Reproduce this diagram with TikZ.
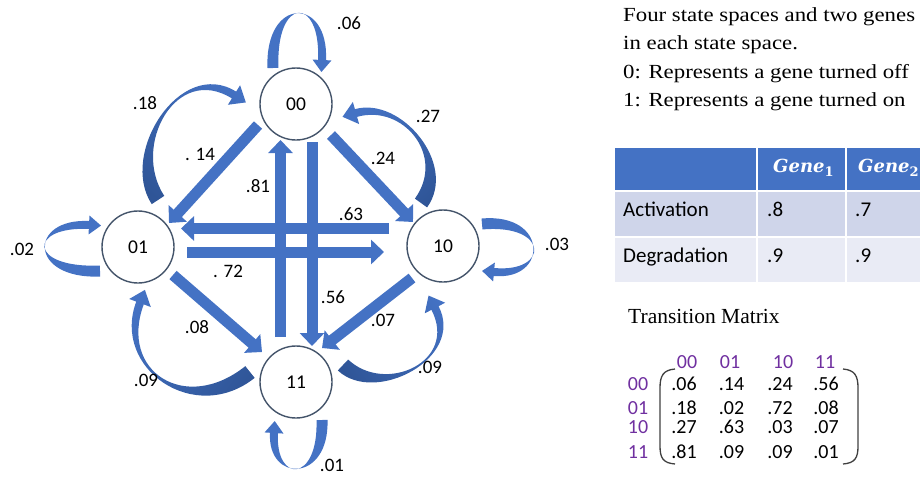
\documentclass[tikz,border=0pt]{standalone}
\usepackage{fontspec}
\usepackage{graphicx}
\setmainfont{Carlito}
\newfontfamily\serifx{Liberation Serif}
\newfontfamily\mathx{DejaVu Serif}
\usetikzlibrary{arrows.meta,calc}
\definecolor{ablue}{HTML}{4472C4}
\definecolor{dblue}{HTML}{2F5597}
\definecolor{ring}{HTML}{44546A}
\definecolor{purp}{HTML}{7030A0}
\definecolor{rowa}{HTML}{CFD5EA}
\definecolor{rowb}{HTML}{E9EBF5}
\newcommand{\fsz}[1]{\fontsize{#1}{#1}\selectfont}
% tapered curved arrow: #1..#4 Bezier points, #5 tail half width, #6 head-base half width, #7 head half width, #8 head length
\newcommand{\mktaper}[8]{%
  \coordinate (a0) at ($(#1)!#5!90:(#2)$);
  \coordinate (b0) at ($(#1)!#5!-90:(#2)$);
  \coordinate (a3) at ($(#4)!#6!-90:(#3)$);
  \coordinate (b3) at ($(#4)!#6!90:(#3)$);
  \coordinate (a1) at ($(#2)+(a0)-(#1)$);
  \coordinate (b1) at ($(#2)+(b0)-(#1)$);
  \coordinate (a2) at ($(#3)+(a3)-(#4)$);
  \coordinate (b2) at ($(#3)+(b3)-(#4)$);
  \coordinate (ha) at ($(#4)!#7!-90:(#3)$);
  \coordinate (hb) at ($(#4)!#7!90:(#3)$);
  \coordinate (tp) at ($(#4)!#8!180:(#3)$);
}
\newcommand{\tapershape}{(a0) .. controls (a1) and (a2) .. (a3) -- (ha) -- (tp) -- (hb) -- (b3) .. controls (b2) and (b1) .. (b0) -- cycle}
\tikzset{
  state/.style={circle, draw=ring, line width=1.4pt, fill=white, minimum size=72pt, inner sep=0pt, font=\fsz{19.5}},
  lbl/.style={inner sep=0pt, font=\fsz{19}, text height=12.5pt, text depth=0pt},
  sarrow/.style={draw=ablue, line width=11pt, -{Triangle[width=24pt,length=13pt]}},
  stxt/.style={anchor=base west, inner sep=0pt, font=\serifx\fsz{20}},
  ttxt/.style={anchor=base west, inner sep=0pt, font=\fsz{21}},
  mnum/.style={anchor=base, inner sep=0pt, font=\fsz{20}, text height=13pt, text depth=0pt},
  mlab/.style={anchor=base, inner sep=0pt, font=\fsz{20}, text=purp, text height=13pt, text depth=0pt},
  hdr/.style={anchor=base west, inner sep=0pt, text=white, font=\mathx\bfseries\itshape\fsz{18}}
}
\begin{document}
\begin{tikzpicture}[x=1pt,y=-1pt]
\useasboundingbox (0,0) rectangle (920,477);

% ---------- straight arrows ----------
\coordinate (v81s) at (280.5,337); \coordinate (v81e) at (280.5,140);
\coordinate (v56s) at (312,142);   \coordinate (v56e) at (312,346);
\coordinate (h63s) at (389,228.5); \coordinate (h63e) at (181,228.5);
\coordinate (h72s) at (187,252);   \coordinate (h72e) at (384,252);
\coordinate (d14s) at (258,125);   \coordinate (d14e) at (169,223);
\coordinate (d24s) at (331,135);   \coordinate (d24e) at (413,222);
\coordinate (d08s) at (173,275);   \coordinate (d08e) at (262,352);
\coordinate (d07s) at (412,278);   \coordinate (d07e) at (322,348);
\draw[sarrow] (v81s) -- (v81e);
\draw[sarrow] (v56s) -- (v56e);
\draw[sarrow] (h63s) -- (h63e);
\draw[sarrow] (h72s) -- (h72e);
\draw[sarrow] (d14s) -- (d14e);
\draw[sarrow] (d24s) -- (d24e);
\draw[sarrow] (d08s) -- (d08e);
\draw[sarrow] (d07s) -- (d07e);

% ---------- self loops ----------
\coordinate (p0) at (273,68); \coordinate (p1) at (270,-4); \coordinate (p2) at (325,-4); \coordinate (p3) at (322,60);
\mktaper{p0}{p1}{p2}{p3}{5.5pt}{4pt}{9.5pt}{12pt}
\fill[ablue] \tapershape;
\coordinate (q0) at (482,224); \coordinate (q1) at (549,218); \coordinate (q2) at (549,277); \coordinate (q3) at (494,272);
\mktaper{q0}{q1}{q2}{q3}{5.5pt}{4pt}{9.5pt}{12pt}
\fill[ablue] \tapershape;
\coordinate (r0) at (322,420); \coordinate (r1) at (324,483); \coordinate (r2) at (271,483); \coordinate (r3) at (274,433);
\mktaper{r0}{r1}{r2}{r3}{5.5pt}{4pt}{9.5pt}{12pt}
\fill[ablue] \tapershape;
\coordinate (s0) at (100,271); \coordinate (s1) at (28,274); \coordinate (s2) at (28,222); \coordinate (s3) at (89,225);
\mktaper{s0}{s1}{s2}{s3}{5.5pt}{4pt}{9.5pt}{12pt}
\fill[ablue] \tapershape;

% ---------- bent arrows ----------
\coordinate (c18a) at (158,200); \coordinate (c18b) at (125,150); \coordinate (c18c) at (178,60); \coordinate (c18d) at (234,95);
\mktaper{c18a}{c18b}{c18c}{c18d}{7.5pt}{4pt}{11.5pt}{14pt}
\shade[top color=ablue, bottom color=dblue, shading angle=-40] \tapershape;
\coordinate (c27a) at (421,203); \coordinate (c27b) at (452,160); \coordinate (c27c) at (402,100); \coordinate (c27d) at (356,113);
\mktaper{c27a}{c27b}{c27c}{c27d}{7.5pt}{4pt}{11.5pt}{14pt}
\shade[top color=ablue, bottom color=dblue, shading angle=40] \tapershape;
\coordinate (c9La) at (250,372); \coordinate (c9Lb) at (190,420); \coordinate (c9Lc) at (115,370); \coordinate (c9Ld) at (140,303);
\mktaper{c9La}{c9Lb}{c9Lc}{c9Ld}{7.5pt}{4pt}{11.5pt}{14pt}
\shade[top color=ablue, bottom color=dblue, shading angle=55] \tapershape;
\coordinate (c9Ra) at (343,365); \coordinate (c9Rb) at (380,400); \coordinate (c9Rc) at (462,360); \coordinate (c9Rd) at (435,308);
\mktaper{c9Ra}{c9Rb}{c9Rc}{c9Rd}{7.5pt}{4pt}{11.5pt}{14pt}
\shade[top color=ablue, bottom color=dblue, shading angle=-55] \tapershape;

% ---------- states ----------
\node[state] (n00) at (296,104) {00};
\node[state] (n01) at (138,247) {01};
\node[state] (n10) at (443,246) {10};
\node[state] (n11) at (296,382) {11};

% ---------- labels ----------
\node[lbl] (l06) at (349,23) {.06};
\node[lbl] (l18) at (145,103) {.18};
\node[lbl] (l27) at (428,116) {.27};
\node[lbl] (l14) at (200,154) {. 14};
\node[lbl] (l24) at (383,158) {.24};
\node[lbl] (l81) at (258,186) {.81};
\node[lbl] (l63) at (351,214) {.63};
\node[lbl] (l72) at (228,271) {. 72};
\node[lbl] (l02) at (22,249) {.02};
\node[lbl] (l03) at (557,244) {.03};
\node[lbl] (l56) at (333,297) {.56};
\node[lbl] (l08) at (197,327) {.08};
\node[lbl] (l07) at (383,320) {.07};
\node[lbl] (l09a) at (146,380) {.09};
\node[lbl] (l09b) at (430,367) {.09};
\node[lbl] (l01) at (332,465) {.01};

% ---------- description ----------
\node[stxt] (t1) at (623,21) {\scalebox{1.14}[1]{Four state spaces and two genes}};
\node[stxt] (t2) at (623,49.5) {\scalebox{1.14}[1]{in each state space.}};
\node[stxt] (t3) at (623,78) {\scalebox{1.14}[1]{0: Represents a gene turned off}};
\node[stxt] (t4) at (623,106) {\scalebox{1.14}[1]{1: Represents a gene turned on}};

% ---------- table ----------
\fill[ablue] (615,148) rectangle (925,191);
\fill[rowa] (615,191) rectangle (925,237);
\fill[rowb] (615,237) rectangle (925,282);
\draw[white, line width=2.5pt] (615,191) -- (925,191);
\draw[white, line width=1.5pt] (615,237) -- (925,237);
\draw[white, line width=1.5pt] (757,148) -- (757,282);
\draw[white, line width=1.5pt] (846,148) -- (846,282);
\node[hdr] (g1) at (773,172) {Gene\raisebox{-4pt}{\fsz{13}\upshape 1}};
\node[hdr] (g2) at (858,172) {Gene\raisebox{-4pt}{\fsz{13}\upshape 2}};
\node[ttxt] (ra) at (623,216) {Activation};
\node[ttxt] (rd) at (623,262) {Degradation};
\node[ttxt] (a1v) at (767,216) {.8};
\node[ttxt] (a2v) at (855,216) {.7};
\node[ttxt] (d1v) at (767,262) {.9};
\node[ttxt] (d2v) at (855,262) {.9};

% ---------- transition matrix ----------
\node[stxt, font=\serifx\fsz{21.5}] (tm) at (628,323) {Transition Matrix};
\node[mlab] (ch1) at (687,368) {00};
\node[mlab] (ch2) at (730,368) {01};
\node[mlab] (ch3) at (783,368) {10};
\node[mlab] (ch4) at (825,368) {11};
\node[mlab] (rh1) at (638,390) {00};
\node[mlab] (rh2) at (638,414) {01};
\node[mlab] (rh3) at (638,433) {10};
\node[mlab] (rh4) at (638,458) {11};
\foreach \r/\y/\va/\vb/\vc/\vd in {1/390/.06/.14/.24/.56, 2/414/.18/.02/.72/.08, 3/433/.27/.63/.03/.07, 4/458/.81/.09/.09/.01}{
  \node[mnum] (m\r a) at (684,\y) {\va};
  \node[mnum] (m\r b) at (731.5,\y) {\vb};
  \node[mnum] (m\r c) at (780,\y) {\vc};
  \node[mnum] (m\r d) at (826,\y) {\vd};
}
\draw[line width=1.3pt, black!75] (675,369) .. controls (663,370) and (660,376) .. (660,388) -- (660,446) .. controls (660,458) and (663,463) .. (675,464);
\draw[line width=1.3pt, black!75] (843,369) .. controls (855,370) and (858,376) .. (858,388) -- (858,446) .. controls (858,458) and (855,463) .. (843,464);
\end{tikzpicture}
\end{document}
